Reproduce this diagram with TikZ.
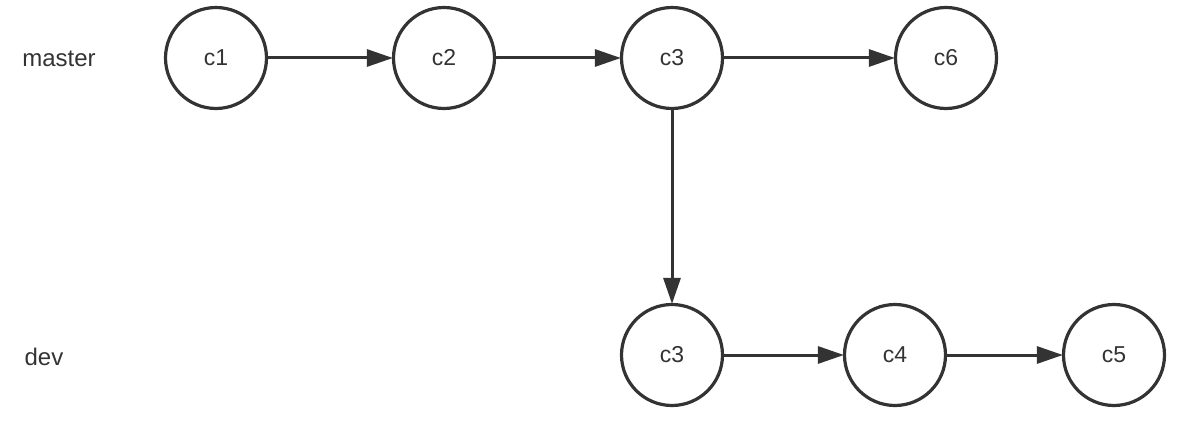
\documentclass[tikz,border=0pt]{standalone}
\usepackage{fontspec}
\setmainfont{Liberation Sans}
\usetikzlibrary{arrows.meta}
\definecolor{ink}{HTML}{333333}
\begin{document}
\begin{tikzpicture}[x=1pt,y=-1pt,
  commit/.style={circle,draw=ink,line width=3.2pt,minimum size=101pt,inner sep=0pt,text=ink,font=\fontsize{23}{27}\selectfont},
  branch/.style={text=ink,font=\fontsize{24}{28}\selectfont},
  link/.style={draw=ink,line width=3pt,-{Triangle[length=26pt,width=17pt]},shorten >=-1pt}]
\useasboundingbox (0,0) rectangle (1178,438);
\node[branch] (master) at (59,59) {master};
\node[branch] (dev) at (44,357) {dev};
\node[commit] (c1) at (216,58) {c1};
\node[commit] (c2) at (444,58) {c2};
\node[commit] (c3) at (672,58) {c3};
\node[commit] (c6) at (946,58) {c6};
\node[commit] (d3) at (672,355) {c3};
\node[commit] (c4) at (895,355) {c4};
\node[commit] (c5) at (1114,355) {c5};
\draw[link] (c1) -- (c2);
\draw[link] (c2) -- (c3);
\draw[link] (c3) -- (c6);
\draw[link] (c3) -- (d3);
\draw[link] (d3) -- (c4);
\draw[link] (c4) -- (c5);
\end{tikzpicture}
\end{document}
